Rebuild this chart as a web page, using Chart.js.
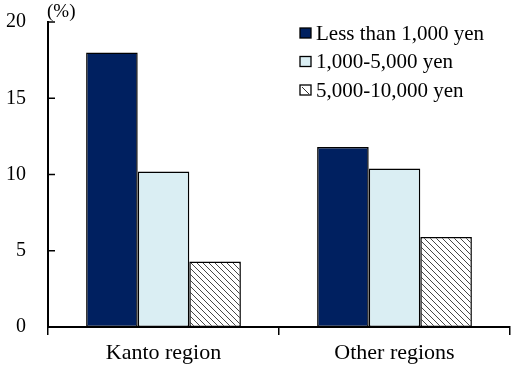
<!DOCTYPE html>
<html>
<head>
<meta charset="utf-8">
<script src="https://cdn.jsdelivr.net/npm/chart.js@4/dist/chart.umd.min.js"></script>
<style>
html,body{margin:0;padding:0;background:#fff;}
#wrap{width:512px;height:371px;position:relative;}
</style>
</head>
<body>
<div id="wrap"><canvas id="c" width="512" height="371"></canvas></div>
<script>
const categories = ["Kanto region", "Other regions"];
const seriesLabels = ["Less than 1,000 yen", "1,000-5,000 yen", "5,000-10,000 yen"];
const lessThan1000 = [18.0, 11.8];
const from1000to5000 = [10.2, 10.4];
const from5000to10000 = [4.3, 5.9];
const yTicks = [0, 5, 10, 15, 20];
const unitLabel = "(%)";

function hatch() {
  const t = document.createElement('canvas');
  t.width = 6; t.height = 6;
  const g = t.getContext('2d');
  g.fillStyle = '#ffffff';
  g.fillRect(0, 0, 6, 6);
  g.strokeStyle = '#333333';
  g.lineWidth = 0.9;
  g.beginPath();
  g.moveTo(0, 0); g.lineTo(6, 6);
  g.moveTo(-3, 3); g.lineTo(3, 9);
  g.moveTo(3, -3); g.lineTo(9, 3);
  g.stroke();
  return g.createPattern(t, 'repeat');
}

const ctx = document.getElementById('c').getContext('2d');
const FONT = "'Liberation Serif', 'Times New Roman', serif";
const pattern = hatch();

const extras = {
  id: 'extras',
  afterDraw(chart) {
    const c = chart.ctx;
    const y = chart.scales.y;
    const a = chart.chartArea;
    c.save();
    c.strokeStyle = '#000';
    c.lineWidth = 1.5;
    y.ticks.forEach(t => {
      const py = y.getPixelForValue(t.value);
      c.beginPath();
      c.moveTo(a.left, py);
      c.lineTo(a.left + 7, py);
      c.stroke();
    });
    c.fillStyle = '#000';
    c.font = "19px " + FONT;
    c.textAlign = 'left';
    c.textBaseline = 'middle';
    c.fillText(unitLabel, a.left - 1, 12);
    const rows = [33, 61.5, 90];
    chart.data.datasets.forEach((ds, i) => {
      const cy = rows[i];
      c.fillStyle = ds.legendFill || ds.backgroundColor;
      c.fillRect(300, cy - 5, 11, 10);
      c.strokeStyle = '#000';
      c.lineWidth = 1.3;
      c.strokeRect(300, cy - 5, 11, 10);
      if (ds.legendFill) {
        c.beginPath();
        c.moveTo(302, cy - 3);
        c.lineTo(309, cy + 4);
        c.strokeStyle = '#333';
        c.lineWidth = 1;
        c.stroke();
      }
      c.fillStyle = '#000';
      c.font = "21px " + FONT;
      c.textAlign = 'left';
      c.textBaseline = 'middle';
      c.fillText(ds.label, 316, cy + 1);
    });
    c.restore();
  }
};

new Chart(ctx, {
  type: 'bar',
  data: {
    labels: categories,
    datasets: [
      { label: seriesLabels[0], data: lessThan1000, backgroundColor: '#002060' },
      { label: seriesLabels[1], data: from1000to5000, backgroundColor: '#DAEEF3' },
      { label: seriesLabels[2], data: from5000to10000, backgroundColor: pattern, legendFill: '#ffffff' }
    ]
  },
  options: {
    responsive: false,
    animation: false,
    devicePixelRatio: 1,
    layout: { autoPadding: false, padding: { left: 0, right: 2, top: 22, bottom: 0 } },
    datasets: {
      bar: {
        borderColor: '#000',
        borderWidth: 1.5,
        borderSkipped: false,
        categoryPercentage: 0.67,
        barPercentage: 1.0
      }
    },
    plugins: {
      legend: { display: false },
      tooltip: { enabled: false }
    },
    scales: {
      x: {
        grid: { display: true, offset: true, drawOnChartArea: false, drawTicks: true, tickLength: 8, color: '#000', lineWidth: 1.5 },
        border: { display: true, color: '#000', width: 2 },
        ticks: { color: '#000', font: { family: FONT, size: 22 }, padding: 5, maxRotation: 0 },
        afterFit(s) { s.height = 44; s.paddingLeft = 0; s.paddingRight = 0; }
      },
      y: {
        min: 0, max: 20,
        afterBuildTicks(s) { s.ticks = yTicks.map(v => ({ value: v })); },
        grid: { display: false, drawTicks: false },
        border: { display: true, color: '#000', width: 2 },
        ticks: { color: '#000', font: { family: FONT, size: 20 }, padding: 22 },
        afterFit(s) { s.width = 48; s.paddingTop = 0; s.paddingBottom = 0; }
      }
    }
  },
  plugins: [extras]
});
</script>
</body>
</html>
